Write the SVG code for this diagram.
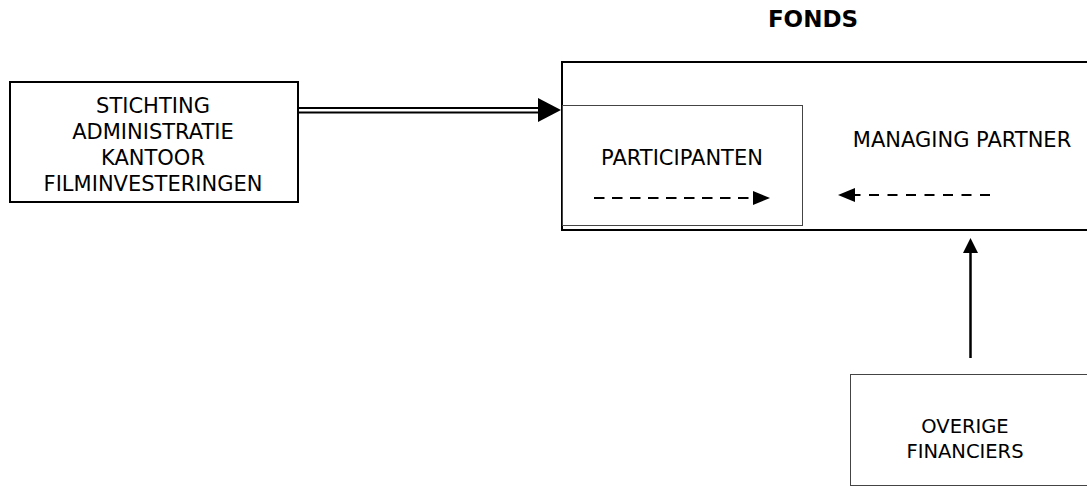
<svg xmlns="http://www.w3.org/2000/svg" width="1087" height="495" viewBox="0 0 1087 495">
<style>
text{font-family:"DejaVu Sans",Verdana,sans-serif;fill:#000;text-anchor:middle}
.t{font-size:21px}
.s{font-size:19.5px}
.b{font-size:23px;font-weight:bold}
.box{fill:#fff;stroke:#000;stroke-width:2}
.thin{fill:none;stroke:#444;stroke-width:1}
.ln{stroke:#000;fill:none}
</style>
<rect width="1087" height="495" fill="#fff"/>
<text class="b" x="813" y="27">FONDS</text>
<g id="fonds">
<rect class="box" x="562" y="62" width="540" height="168"/>
<text class="t" x="962" y="147">MANAGING PARTNER</text>
</g>
<g id="participanten">
<rect class="thin" x="562.5" y="105.5" width="240" height="120"/>
<text class="t" x="682" y="165">PARTICIPANTEN</text>
</g>
<g id="stichting">
<rect class="box" x="10" y="82" width="288" height="120"/>
<text class="t" x="153" y="113">STICHTING</text>
<text class="t" x="153" y="139">ADMINISTRATIE</text>
<text class="t" x="153" y="165">KANTOOR</text>
<text class="t" x="153" y="191">FILMINVESTERINGEN</text>
</g>
<g id="overige">
<rect class="thin" x="850.5" y="374.5" width="250" height="111"/>
<text class="s" x="965" y="433">OVERIGE</text>
<text class="s" x="965" y="458">FINANCIERS</text>
</g>
<g id="connectors">
<line class="ln" x1="298" y1="108" x2="540" y2="108" stroke-width="1.8"/>
<line class="ln" x1="298" y1="112.5" x2="540" y2="112.5" stroke-width="2"/>
<path d="M538,98 L561,110 L538,122 Z" fill="#000"/>
<line class="ln" x1="594" y1="198" x2="755" y2="198" stroke-width="2.2" stroke-dasharray="10.5 7.5"/>
<path d="M753,191 L770,198 L753,205 Z" fill="#000"/>
<line class="ln" x1="990" y1="195" x2="852" y2="195" stroke-width="2.2" stroke-dasharray="10 8.5"/>
<path d="M855,188 L838,195 L855,202 Z" fill="#000"/>
<line class="ln" x1="970.5" y1="358" x2="970.5" y2="251" stroke-width="2.5"/>
<path d="M963,253 L970.5,238 L978,253 Z" fill="#000"/>
</g>
</svg>
